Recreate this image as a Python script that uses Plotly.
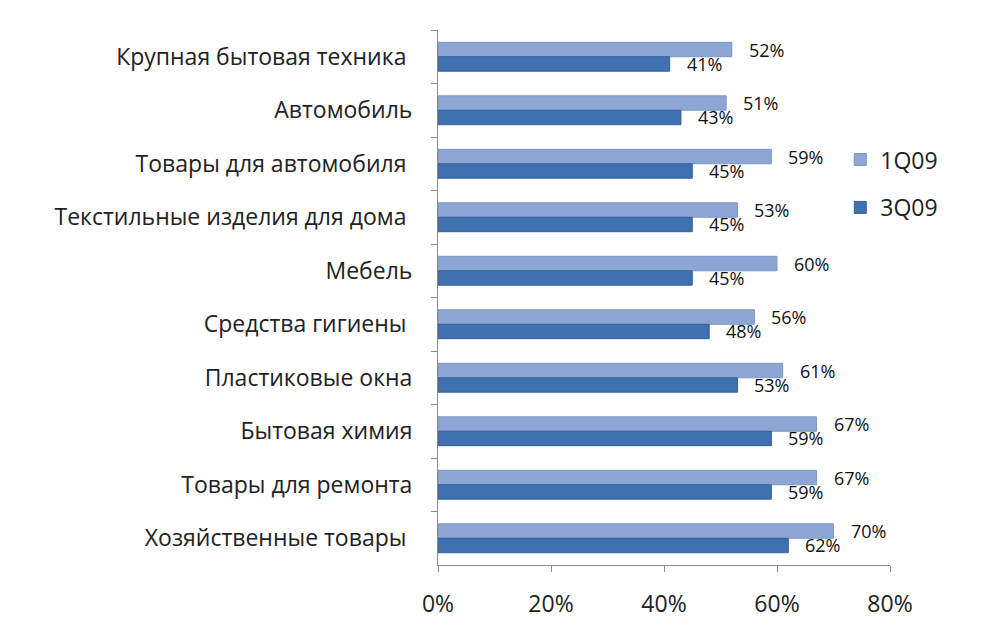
import plotly.graph_objects as go

categories = ["Крупная бытовая техника\u00a0", "Автомобиль", "Товары для автомобиля\u00a0",
              "Текстильные изделия для дома\u00a0", "Мебель", "Средства гигиены\u00a0",
              "Пластиковые окна", "Бытовая химия", "Товары для ремонта",
              "Хозяйственные товары\u00a0"]
q1_09 = [52, 51, 59, 53, 60, 56, 61, 67, 67, 70]
q3_09 = [41, 43, 45, 45, 45, 48, 53, 59, 59, 62]
series_names = ["1Q09", "3Q09"]
x_ticks = [0, 20, 40, 60, 80]
x_ticklabels = ["0%", "20%", "40%", "60%", "80%"]

colors = ["#8DA6D4", "#3F70B0"]
edges = ["#7D96C4", "#35609C"]
FONT = "Open Sans"

fig = go.Figure()
for i, (name, vals) in enumerate(zip(series_names, [q1_09, q3_09])):
    fig.add_trace(go.Bar(
        y=categories, x=vals, name=name, orientation="h",
        marker=dict(color=colors[i], line=dict(color=edges[i], width=1)),
        legendgroup=name,
    ))

# data labels (annotations placed by data coordinates)
for i, vals in enumerate([q1_09, q3_09]):
    for c, v in zip(categories, vals):
        fig.add_annotation(
            x=v, y=c, text=f"{v}%", showarrow=False, xanchor="left",
            xshift=15, yshift=7 if i == 0 else -7,
            font=dict(family=FONT, size=18, color="#111111"),
        )

fig.update_layout(
    width=982, height=638,
    margin=dict(l=430, r=100, t=22, b=81, autoexpand=False),
    paper_bgcolor="white", plot_bgcolor="white",
    barmode="group", bargap=0.46, bargroupgap=0.0,
    font=dict(family=FONT, size=18, color="#222222"),
    legend=dict(x=0.89, xanchor="left", y=0.798, yanchor="top",
                font=dict(family=FONT, size=23, color="#222222"),
                tracegroupgap=15, itemwidth=30, bgcolor="rgba(0,0,0,0)"),
    showlegend=True,
)
fig.update_xaxes(range=[0, 80], tickvals=x_ticks, ticktext=x_ticklabels,
                 showgrid=False, zeroline=False, showline=True,
                 linecolor="#8C8C8C", linewidth=1, ticks="outside",
                 ticklen=6, tickcolor="#8C8C8C", automargin=False,
                 ticklabelstandoff=12,
                 tickfont=dict(family=FONT, size=23, color="#222222"))
fig.update_yaxes(autorange="reversed", showgrid=False, showline=True,
                 linecolor="#8C8C8C", linewidth=1, ticks="outside",
                 tickson="boundaries", ticklen=6, tickcolor="#8C8C8C",
                 ticklabelstandoff=20, automargin=False,
                 tickfont=dict(family=FONT, size=23, color="#222222"))

fig.write_html("out.html")
